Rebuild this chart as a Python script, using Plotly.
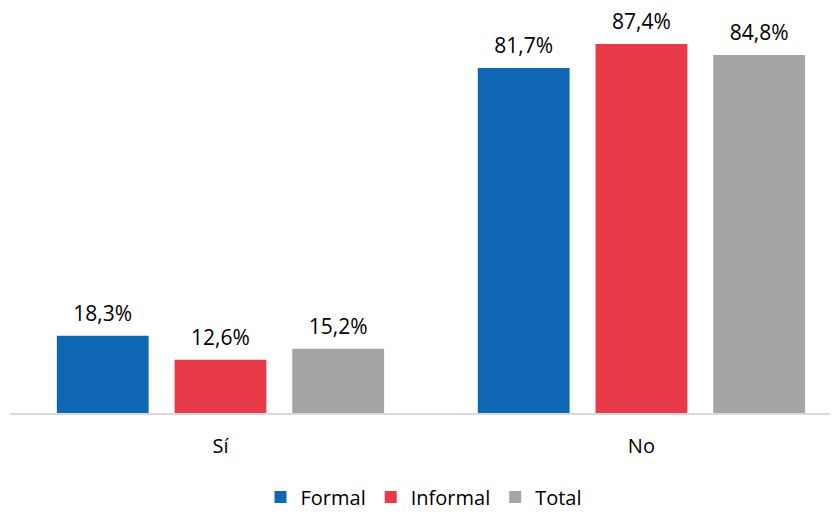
import plotly.graph_objects as go

categories = ["Sí", "No"]
formal = [18.3, 81.7]
informal = [12.6, 87.4]
total = [15.2, 84.8]

COLORS = {
    "Formal": "#1068B4",
    "Informal": "#E93B47",
    "Total": "#A5A5A5",
}

FONT = "Open Sans, sans-serif"

fig = go.Figure()
for name, vals in [("Formal", formal), ("Informal", informal), ("Total", total)]:
    fig.add_trace(
        go.Bar(
            x=categories,
            y=vals,
            name=name,
            marker_color=COLORS[name],
            marker_line_width=0,
            offsetgroup=name,
        )
    )

# value labels: invisible markers push the text a bit above the bar tops
for name, vals in [("Formal", formal), ("Informal", informal), ("Total", total)]:
    fig.add_trace(
        go.Scatter(
            x=categories,
            y=vals,
            mode="markers+text",
            marker=dict(size=14, opacity=0),
            text=[f"{v:.1f}%".replace(".", ",") for v in vals],
            textposition="top center",
            textfont=dict(size=21, color="#000000", family=FONT),
            offsetgroup=name,
            showlegend=False,
            hoverinfo="skip",
            cliponaxis=False,
        )
    )

fig.update_layout(
    width=838,
    height=512,
    barmode="group",
    scattermode="group",
    bargap=0.161,
    scattergap=0.161,
    bargroupgap=0.22,
    separators=",.",
    font=dict(family=FONT, size=20, color="#000000"),
    margin=dict(l=2, r=8, t=25, b=107),
    plot_bgcolor="#FFFFFF",
    paper_bgcolor="#FFFFFF",
    showlegend=True,
    legend=dict(
        orientation="h",
        x=0.5,
        xanchor="center",
        y=-0.221,
        yanchor="middle",
        font=dict(size=20, family=FONT),
        itemwidth=30,
        traceorder="normal",
    ),
    xaxis=dict(
        range=[-0.5, 1.467],
        showline=True,
        linecolor="#D9D9D9",
        linewidth=2,
        ticks="",
        ticklabelstandoff=14,
        tickfont=dict(size=20, family=FONT),
        showgrid=False,
    ),
    yaxis=dict(
        range=[0, 90],
        visible=False,
        showgrid=False,
        zeroline=False,
    ),
)

fig.write_html("out.html")
